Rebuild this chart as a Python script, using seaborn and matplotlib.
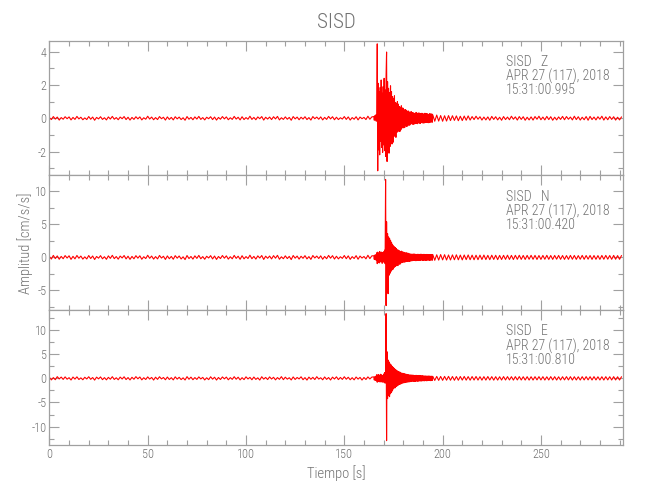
import numpy as np
import matplotlib
matplotlib.use("Agg")
import matplotlib.pyplot as plt
import seaborn as sns
from matplotlib.ticker import MultipleLocator

# ---------------- text ----------------
title = "SISD"
x_label = "Tiempo [s]"
y_label = "Amplitud [cm/s/s]"
station = "SISD"
channels = ["Z", "N", "E"]
date_label = "APR 27 (117), 2018"
start_times = ["15:31:00.995", "15:31:00.420", "15:31:00.810"]
x_ticks = [0, 50, 100, 150, 200, 250]

# ---------------- sampling of each trace segment (start [s], step [s]) ----------------
pre_start, pre_step = 0.0, 1.0
event_start, event_step = 165.0, 0.25
post_start, post_step = 195.0, 1.0

# ---------------- Z component [cm/s/s] ----------------
z_pre = [.03,-.08,.10,-.05,.07,-.11,.04,-.06,.09,-.03,
         .08,-.10,.05,-.07,.11,-.04,.06,-.09,.02,-.08,
         .10,-.06,.07,-.12,.05,-.04,.09,-.07,.03,-.10,
         .08,-.05,.11,-.06,.04,-.09,.07,-.03,.10,-.08,
         .06,-.11,.05,-.07,.09,-.04,.08,-.10,.03,-.06,
         .12,-.05,.07,-.09,.04,-.08,.10,-.03,.06,-.11,
         .08,-.07,.05,-.10,.09,-.04,.07,-.08,.03,-.12,
         .10,-.06,.05,-.09,.08,-.05,.11,-.07,.04,-.10,
         .06,-.03,.09,-.08,.07,-.11,.05,-.06,.10,-.04,
         .08,-.09,.03,-.07,.11,-.05,.06,-.10,.09,-.08,
         .04,-.06,.12,-.07,.05,-.09,.08,-.03,.10,-.11,
         .06,-.05,.07,-.08,.09,-.04,.11,-.10,.03,-.07,
         .08,-.06,.05,-.12,.10,-.04,.07,-.09,.06,-.05,
         .09,-.08,.04,-.11,.10,-.03,.07,-.06,.08,-.10,
         .05,-.07,.11,-.04,.09,-.09,.06,-.08,.03,-.05,
         .10,-.07,.08,-.11,.04,-.06,.09,-.10,.07,-.03,
         .05,-.08,.12,-.06,.08]
z_event = [.10,-.12,.15,-.10,.20,-.18,.25,4.47,-3.16,2.10,
           -1.90,1.60,-2.20,1.85,-1.40,2.30,-1.75,1.50,-2.05,1.90,
           -1.60,2.40,-1.95,1.70,-2.30,2.60,3.98,-2.60,2.20,-1.90,
           1.80,-2.10,1.55,-1.70,1.95,-1.40,1.60,-1.55,1.30,-1.45,
           1.20,-1.10,1.35,-1.00,.95,-1.15,.90,-.85,1.00,-.80,
           .85,-.75,.70,-.80,.65,-.70,.75,-.60,.62,-.55,
           .60,-.58,.50,-.55,.52,-.45,.48,-.50,.42,-.46,
           .44,-.40,.38,-.42,.36,-.35,.40,-.33,.34,-.36,
           .33,-.36,.30,-.34,.28,-.32,.35,-.30,.29,-.33,
           .31,-.28,.32,-.30,.27,-.31,.29,-.26,.30,-.28,
           .27,-.29,.25,-.28,.30,-.26,.27,-.24,.28,-.26,
           .25,-.27,.23,-.26,.28,-.24,.25,-.23,.26,-.24]
z_post = [.20,-.18,.19,-.17,.16,-.18,.15,-.17,.16,-.14,
          .15,-.13,.14,-.15,.12,-.14,.13,-.12,.14,-.11,
          .10,-.08,.12,-.06,.09,-.11,.07,-.10,.08,-.12,
          .11,-.07,.09,-.10,.06,-.12,.10,-.08,.07,-.09,
          .12,-.06,.08,-.11,.10,-.07,.09,-.12,.06,-.10,
          .08,-.11,.10,-.06,.12,-.09,.07,-.10,.11,-.08,
          .09,-.12,.06,-.10,.08,-.07,.11,-.09,.10,-.06,
          .07,-.10,.12,-.08,.09,-.11,.06,-.09,.10,-.12,
          .11,-.08,.07,-.10,.09,-.06,.12,-.11,.08,-.09,
          .10,-.07,.09,-.11,.06,-.10,.08]

# ---------------- N component [cm/s/s] ----------------
n_pre = [.12,-.25,.30,-.18,.22,-.28,.15,-.20,.27,-.10,
         .24,-.30,.16,-.22,.29,-.13,.20,-.26,.08,-.24,
         .28,-.17,.21,-.32,.14,-.12,.26,-.21,.10,-.29,
         .23,-.15,.31,-.19,.13,-.27,.20,-.09,.28,-.23,
         .18,-.30,.15,-.21,.26,-.12,.24,-.28,.10,-.18,
         .32,-.14,.20,-.26,.12,-.23,.29,-.10,.17,-.31,
         .22,-.20,.15,-.28,.26,-.12,.21,-.24,.09,-.33,
         .28,-.18,.14,-.26,.23,-.15,.30,-.21,.12,-.28,
         .17,-.09,.26,-.23,.20,-.31,.14,-.18,.28,-.12,
         .23,-.26,.10,-.21,.30,-.15,.18,-.29,.25,-.22,
         .12,-.17,.33,-.20,.15,-.26,.23,-.10,.28,-.31,
         .18,-.14,.20,-.23,.26,-.12,.31,-.28,.09,-.20,
         .23,-.18,.15,-.33,.28,-.12,.20,-.26,.17,-.14,
         .26,-.23,.12,-.30,.28,-.09,.20,-.17,.23,-.28,
         .14,-.20,.30,-.12,.26,-.25,.17,-.23,.10,-.15,
         .28,-.20,.23,-.30,.12,-.17,.26,-.28,.20,-.10,
         .14,-.22,.32,-.18,.23]
n_event = [.25,-.30,.35,-.28,.40,-.45,.70,-.95,.80,-.75,
           .65,-.85,.90,-.70,.75,-.60,.80,-.90,.70,-.65,
           .85,-.75,1.10,-.95,11.8,-7.30,5.40,-3.20,3.60,-5.50,
           3.10,-2.70,2.90,-2.40,2.60,-2.10,2.30,-1.90,2.00,-1.80,
           1.75,-1.55,1.60,-1.40,1.50,-1.30,1.35,-1.20,1.15,-1.25,
           1.10,-.95,1.00,-1.05,.90,-.85,.95,-.80,.85,-.75,
           .80,-.70,.75,-.72,.68,-.65,.70,-.62,.66,-.60,
           .62,-.58,.55,-.60,.52,-.55,.50,-.52,.48,-.50,
           .50,-.47,.52,-.45,.48,-.50,.44,-.49,.46,-.43,
           .48,-.45,.42,-.47,.46,-.44,.49,-.41,.45,-.46,
           .43,-.45,.47,-.42,.44,-.46,.41,-.44,.45,-.42,
           .44,-.41,.43,-.45,.40,-.43,.44,-.40,.42,-.43]
n_post = [.42,-.44,.40,-.41,.43,-.38,.41,-.40,.37,-.39,
          .38,-.36,.39,-.37,.35,-.38,.36,-.34,.37,-.35,
          .34,-.36,.33,-.35,.34,-.32,.35,-.33,.31,-.34,
          .33,-.31,.32,-.34,.30,-.32,.31,-.30,.33,-.31,
          .30,-.32,.31,-.29,.32,-.30,.29,-.31,.30,-.28,
          .31,-.29,.30,-.31,.28,-.30,.29,-.28,.31,-.29,
          .28,-.30,.29,-.27,.30,-.29,.28,-.30,.27,-.29,
          .30,-.28,.29,-.30,.27,-.28,.30,-.29,.28,-.27,
          .29,-.30,.28,-.29,.27,-.30,.29,-.28,.30,-.27,
          .28,-.29,.30,-.28,.27,-.29,.28]

# ---------------- E component [cm/s/s] ----------------
e_pre = [.20,-.32,.15,-.28,.35,-.12,.26,-.22,.30,-.18,
         .14,-.34,.27,-.16,.31,-.24,.10,-.29,.22,-.13,
         .33,-.20,.17,-.36,.25,-.11,.29,-.27,.15,-.31,
         .21,-.18,.34,-.23,.12,-.30,.26,-.14,.32,-.25,
         .16,-.33,.22,-.19,.35,-.10,.28,-.31,.13,-.24,
         .30,-.15,.19,-.35,.24,-.21,.33,-.12,.18,-.29,
         .27,-.23,.14,-.32,.31,-.16,.22,-.26,.11,-.34,
         .35,-.19,.25,-.28,.16,-.22,.30,-.13,.20,-.33,
         .12,-.27,.32,-.17,.23,-.35,.18,-.24,.29,-.11,
         .26,-.30,.15,-.21,.34,-.18,.24,-.32,.14,-.26,
         .31,-.13,.20,-.29,.27,-.22,.11,-.35,.33,-.16,
         .19,-.25,.30,-.14,.22,-.31,.16,-.20,.35,-.27,
         .24,-.17,.13,-.33,.29,-.23,.18,-.12,.32,-.28,
         .15,-.36,.26,-.19,.21,-.25,.34,-.15,.12,-.30,
         .28,-.21,.17,-.34,.25,-.14,.31,-.26,.19,-.22,
         .33,-.18,.23,-.29,.14,-.31,.27,-.16,.20,-.35,
         .18,-.24,.30,-.13,.26]
e_event = [.30,-.35,.32,-.40,.45,-.50,.75,-.80,.70,-.65,
           .80,-.70,.60,-.75,.85,-.65,.70,-.80,.60,-.70,
           .90,-.85,1.20,-1.00,1.50,13.4,-12.9,5.50,-4.20,3.80,
           -3.60,3.40,-3.80,3.00,-3.20,2.80,-2.90,2.50,-2.60,2.30,
           -2.20,2.10,-2.00,1.90,-1.95,1.75,-1.70,1.60,-1.55,1.45,
           -1.40,1.35,-1.25,1.30,-1.20,1.15,-1.10,1.05,-1.00,1.05,
           -.95,1.00,-.90,.92,-.85,.88,-.80,.82,-.78,.80,
           -.75,.72,-.74,.70,-.68,.70,-.66,.68,-.64,.65,
           .66,-.62,.60,-.64,.58,-.61,.63,-.57,.59,-.60,
           .56,-.58,.60,-.54,.57,-.55,.52,-.56,.54,-.51,
           .53,-.50,.48,-.52,.50,-.47,.49,-.51,.46,-.48,
           .47,-.45,.49,-.44,.46,-.48,.43,-.46,.45,-.42]
e_post = [.41,-.43,.40,-.42,.39,-.41,.40,-.38,.41,-.39,
          .38,-.40,.37,-.39,.38,-.36,.39,-.37,.36,-.38,
          .37,-.35,.38,-.36,.34,-.37,.35,-.36,.37,-.34,
          .35,-.37,.34,-.36,.33,-.35,.36,-.34,.35,-.33,
          .34,-.36,.35,-.33,.36,-.34,.33,-.35,.34,-.36,
          .33,-.35,.34,-.32,.35,-.33,.34,-.35,.32,-.34,
          .35,-.33,.34,-.35,.32,-.34,.33,-.32,.35,-.33,
          .34,-.35,.33,-.34,.32,-.35,.34,-.33,.35,-.32,
          .33,-.34,.35,-.33,.32,-.34,.33,-.35,.34,-.32,
          .33,-.34,.35,-.33,.32,-.34,.33]

traces = [(z_pre, z_event, z_post), (n_pre, n_event, n_post), (e_pre, e_event, e_post)]
y_limits = [(-3.44, 4.66), (-8.0, 12.4), (-13.8, 14.1)]
y_major = [2, 5, 5]
y_minor = [1, 2.5, 2.5]
x_limit = (0, 291.6)

# ---------------- style ----------------
sns.set_style("ticks")
plt.rcParams["font.family"] = ["Roboto Condensed", "DejaVu Sans"]
plt.rcParams["font.weight"] = "light"
axis_col = "#a0a0a0"
text_col = "#727272"
plt.rcParams.update({
    "axes.edgecolor": axis_col, "axes.linewidth": 0.9,
    "xtick.color": axis_col, "ytick.color": axis_col,
    "xtick.labelcolor": text_col, "ytick.labelcolor": text_col,
    "text.color": text_col, "axes.labelcolor": text_col,
    "axes.unicode_minus": False, "axes.labelweight": "light",
})

fig, axes = plt.subplots(3, 1, figsize=(6.5, 5.0), dpi=100, sharex=True)
fig.subplots_adjust(left=0.076, right=0.958, top=0.9186, bottom=0.11, hspace=0)

def seg_times(start, step, vals):
    return start + step * np.arange(len(vals))

for i, ax in enumerate(axes):
    pre, ev, post = traces[i]
    t = np.concatenate([seg_times(pre_start, pre_step, pre),
                        seg_times(event_start, event_step, ev),
                        seg_times(post_start, post_step, post)])
    v = np.concatenate([pre, ev, post])
    sns.lineplot(x=t, y=v, ax=ax, color="#ff0000", lw=0.8,
                 estimator=None, sort=False)
    ax.set_xlim(*x_limit)
    ax.set_ylim(*y_limits[i])
    ax.xaxis.set_major_locator(MultipleLocator(50))
    ax.xaxis.set_minor_locator(MultipleLocator(10))
    ax.yaxis.set_major_locator(MultipleLocator(y_major[i]))
    ax.yaxis.set_minor_locator(MultipleLocator(y_minor[i]))
    ax.tick_params(which="both", direction="in", top=True, right=True,
                   labelsize=8.7, pad=2)
    ax.tick_params(which="major", length=7, width=0.8)
    ax.tick_params(which="minor", length=3.5, width=0.8)
    for s in ax.spines.values():
        s.set_visible(True)
    ax.set_xlabel("")
    ax.set_ylabel("")
    lines = [f"{station}   {channels[i]}", date_label, start_times[i]]
    for line, yy in zip(lines, [0.895, 0.79, 0.685]):
        ax.text(0.7965, yy, line, transform=ax.transAxes, fontsize=10,
                ha="left", va="top", color=text_col, fontweight="light")

axes[-1].set_xticks(x_ticks)
axes[-1].set_xlabel(x_label, fontsize=10.5, labelpad=3)
axes[1].set_ylabel(y_label, fontsize=10.5, labelpad=1)
fig.text(0.517, 0.956, title, fontsize=15, color=text_col, ha="center",
         va="center", fontweight="light")

fig.savefig("out.png", dpi=100)
